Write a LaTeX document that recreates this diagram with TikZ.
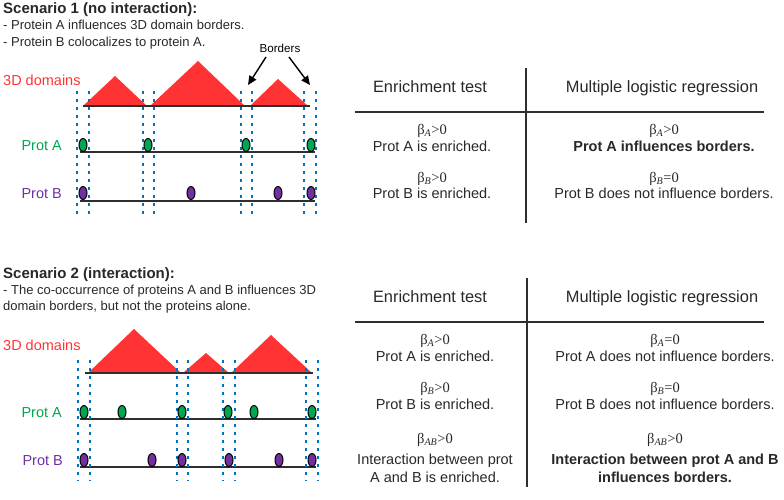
\documentclass[tikz,border=0pt]{standalone}
\usepackage{fontspec}
\setmainfont{Liberation Sans}
\newfontfamily\betafont{Liberation Serif}
\usepackage{tikz}
\usetikzlibrary{arrows.meta,positioning,shapes.geometric}
\definecolor{dom_red}{RGB}{255,51,51}
\definecolor{prot_green}{RGB}{0,166,81}
\definecolor{prot_purple}{RGB}{112,48,160}
\definecolor{dot_blue}{RGB}{0,112,192}
\definecolor{line_gray}{RGB}{50,45,45}
\definecolor{text_gray}{RGB}{40,40,40}
\newcommand{\betasub}[2]{{\betafont β\textsubscript{\itshape #1}#2}}

\begin{document}
\begin{tikzpicture}[x=1pt,y=-1pt,
      oval_green/.style={
         ellipse,
         draw=black,
         line width=1pt,
         fill=prot_green,
         inner sep=0pt,
         minimum width=8pt,
         minimum height=13pt},
      oval_purple/.style={
         ellipse,
         draw=black,
         line width=1pt,
         fill=prot_purple,
         inner sep=0pt,
         minimum width=8pt,
         minimum height=13pt},
      track/.style={
         draw=line_gray,
         line width=2pt},
      border_dots/.style={
         draw=dot_blue,
         line width=2.2pt,
         dash pattern=on 3pt off 5pt},
      dom_fill/.style={
         fill=dom_red},
      arrow_black/.style={
         -{Triangle[length=9pt,width=8pt]},
         line width=1.4pt},
      table_line/.style={
         draw=line_gray,
         line width=1.4pt},
      title_txt/.style={
         font=\fontsize{15}{18}\selectfont\bfseries,
         text=text_gray, anchor=base west, inner sep=0pt},
      desc_txt/.style={
         font=\fontsize{13}{16}\selectfont,
         text=text_gray, anchor=base west, inner sep=0pt},
      dom_lbl/.style={
         font=\fontsize{14.5}{17}\selectfont,
         text=dom_red, anchor=base west, inner sep=0pt},
      prot_lbl/.style={
         font=\fontsize{14.5}{17}\selectfont,
         anchor=base east, inner sep=0pt},
      hdr_txt/.style={
         font=\fontsize{16.4}{19}\selectfont,
         text=text_gray, anchor=base, inner sep=0pt},
      cell_txt/.style={
         font=\fontsize{14.5}{17}\selectfont,
         text=text_gray, anchor=base, inner sep=0pt},
   ]
   \useasboundingbox (0,0) rectangle (784,499);

   %%% scenario 1
   \node[title_txt] (s1t) at (3,13) {Scenario 1 (no interaction):};
   \node[desc_txt] (s1a) at (3,29.3) {- Protein A influences 3D domain borders.};
   \node[desc_txt] (s1b) at (3,46) {- Protein B colocalizes to protein A.};

   \node[dom_lbl] (dom1) at (3,85) {3D domains};
   \node[prot_lbl,text=prot_green] (pa1) at (62,150.7) {Prot A};
   \node[prot_lbl,text=prot_purple] (pb1) at (62,198.3) {Prot B};

   % domains
   \fill[dom_fill] (83,106) -- (115,76) -- (147,106) -- cycle;
   \fill[dom_fill] (150,106) -- (198,61) -- (245,106) -- cycle;
   \fill[dom_fill] (250,106) -- (278,79) -- (308,106) -- cycle;
   \draw[track] (83,106) -- (310,106);
   \draw[track] (80,152) -- (315,152);
   \draw[track] (80,201) -- (315,201);

   % borders
   \foreach \x in {77,89,143,154,241,252,304,316}
      \draw[border_dots] (\x,91) -- (\x,217);

   \foreach \x [count=\i] in {83,148,246,311}
      \node[oval_green] (a1-\i) at (\x,145) {};
   \foreach \x [count=\i] in {83,191,278,311}
      \node[oval_purple] (b1-\i) at (\x,193) {};

   \node[font=\fontsize{11.6}{14}\selectfont,anchor=base,inner sep=0pt] (bord) at (280,52.7) {Borders};
   \coordinate (tipL) at (248,85);
   \coordinate (tipR) at (310,85);
   \draw[arrow_black] ([xshift=-14pt,yshift=-4pt]bord.south) -- (tipL);
   \draw[arrow_black] ([xshift=9pt,yshift=-4pt]bord.south) -- (tipR);

   %%% table 1
   \node[hdr_txt] (h1l) at (430,92.7) {Enrichment test};
   \node[hdr_txt] (h1r) at (662,92.7) {Multiple logistic regression};
   \coordinate (t1w) at (355,112);
   \coordinate (t1e) at (764,112);
   \coordinate (t1n) at (526,68);
   \coordinate (t1s) at (526,223);
   \draw[table_line] (t1w) -- (t1e);
   \draw[table_line] (t1n) -- (t1s);

   \foreach \nm/\x/\y/\txt in {% name/x/baseline/text
      c1a/432/134/{\betasub{A}{>0}},
      c1b/432/151.7/{Prot A is enriched.},
      c1c/432/182.7/{\betasub{B}{>0}},
      c1d/432/198/{Prot B is enriched.},
      c1e/664/134/{\betasub{A}{>0}},
      c1f/664/151.7/{\textbf{Prot A influences borders.}},
      c1g/664/182.7/{\betasub{B}{=0}},
      c1h/664/198/{Prot B does not influence borders.}}
      \node[cell_txt] (\nm) at (\x,\y) {\txt};

   %%% scenario 2
   \node[title_txt] (s2t) at (3,278.3) {Scenario 2 (interaction):};
   \node[desc_txt] (s2a) at (3,294) {- The co-occurrence of proteins A and B influences 3D};
   \node[desc_txt] (s2b) at (3,310) {domain borders, but not the proteins alone.};

   \node[dom_lbl] (dom2) at (3,350.7) {3D domains};
   \node[prot_lbl,text=prot_green] (pa2) at (62,417.7) {Prot A};
   \node[prot_lbl,text=prot_purple] (pb2) at (63,465) {Prot B};

   % domains
   \fill[dom_fill] (88,373) -- (134,329) -- (181,373) -- cycle;
   \fill[dom_fill] (183,373) -- (206,353) -- (229,373) -- cycle;
   \fill[dom_fill] (231,373) -- (271,335) -- (312,373) -- cycle;
   \draw[track] (85,373) -- (313,373);
   \draw[track] (80,419) -- (316,419);
   \draw[track] (80,467) -- (316,467);

   % borders
   \foreach \x in {78,90,177,188,223,235,306,318}
      \draw[border_dots] (\x,360) -- (\x,481);

   \foreach \x [count=\i] in {84,122,182,228,254,312}
      \node[oval_green] (a2-\i) at (\x,412) {};
   \foreach \x [count=\i] in {84,152,182,229,279,312}
      \node[oval_purple] (b2-\i) at (\x,460) {};

   %%% table 2
   \node[hdr_txt] (h2l) at (430,302.7) {Enrichment test};
   \node[hdr_txt] (h2r) at (662,302.7) {Multiple logistic regression};
   \coordinate (t2w) at (355,322);
   \coordinate (t2e) at (764,322);
   \coordinate (t2n) at (527,278);
   \coordinate (t2s) at (527,487);
   \draw[table_line] (t2w) -- (t2e);
   \draw[table_line] (t2n) -- (t2s);

   \foreach \nm/\x/\y/\txt in {% name/x/baseline/text
      c2a/435/344/{\betasub{A}{>0}},
      c2b/435/361.7/{Prot A is enriched.},
      c2c/435/392.7/{\betasub{B}{>0}},
      c2d/435/409.3/{Prot B is enriched.},
      c2e/435/443.3/{\betasub{AB}{>0}},
      c2f/435/464.3/{Interaction between prot},
      c2g/435/482.7/{A and B is enriched.},
      c2h/665/344/{\betasub{A}{=0}},
      c2i/665/361.7/{Prot A does not influence borders.},
      c2j/665/392.7/{\betasub{B}{=0}},
      c2k/665/409.3/{Prot B does not influence borders.},
      c2l/665/443.3/{\betasub{AB}{>0}},
      c2m/665/464.3/{\textbf{Interaction between prot A and B}},
      c2n/665/482.7/{\textbf{influences borders.}}}
      \node[cell_txt] (\nm) at (\x,\y) {\txt};
\end{tikzpicture}
\end{document}
